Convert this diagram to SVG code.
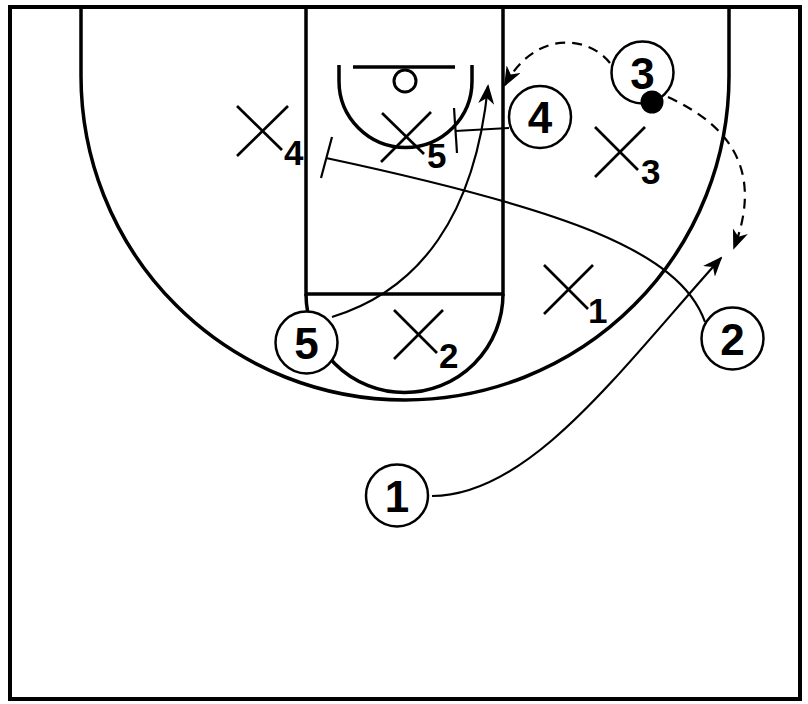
<svg xmlns="http://www.w3.org/2000/svg" width="808" height="704" viewBox="0 0 808 704">
  <defs>
    <style>
      .court { fill: none; stroke: #000; stroke-width: 3.5; }
      .xm { stroke: #000; stroke-width: 2.7; fill: none; }
      .xl { font-family: "Liberation Sans", Arial, sans-serif; font-weight: bold; font-size: 35px; fill: #000; }
      .pc { fill: #fff; stroke: #000; stroke-width: 2.5; }
      .pl { font-family: "Liberation Sans", Arial, sans-serif; font-weight: bold; font-size: 44px; fill: #000; text-anchor: middle; }
      .mv { fill: none; stroke: #000; stroke-width: 2.2; }
      .dash { stroke-dasharray: 10 7; }
    </style>
    <marker id="arr" viewBox="0 0 20 16" refX="18" refY="8" markerWidth="20" markerHeight="16" orient="auto" markerUnits="userSpaceOnUse">
      <path d="M0,0 L20,8 L0,16 L6,8 z" fill="#000"/>
    </marker>
  </defs>
  <rect width="808" height="704" fill="#fff"/>

  <g id="court">
    <rect x="10" y="7" width="790" height="692" fill="none" stroke="#000" stroke-width="4"/>
    <path class="court" d="M81,7 L81,76 A324,324 0 0 0 729,76 L729,7"/>
    <path class="court" d="M306,7 L306,294 L503,294 L503,7"/>
    <path class="court" d="M306,294 A98.5,98.5 0 0 0 503,294"/>
    <path class="court" d="M339,65 L339,81 A66.5,66.5 0 0 0 472,81 L472,65"/>
    <line class="court" x1="353" y1="67" x2="455" y2="67"/>
    <circle cx="405" cy="81" r="11" fill="none" stroke="#000" stroke-width="3"/>
  </g>

  <g id="connectors">
    <path id="cut1" class="mv" d="M432,496 C530,496 620,370 721,258" marker-end="url(#arr)"/>
    <path id="screen2" class="mv" d="M705,322 C680,250 560,208 326,158"/>
    <line class="mv" x1="332" y1="137" x2="321" y2="178" stroke-width="2.5"/>
    <path id="cut5" class="mv" d="M332,317 C420,290 475,215 488,86" marker-end="url(#arr)"/>
    <line id="screen4" class="mv" x1="509" y1="128" x2="455" y2="131"/>
    <line class="mv" x1="454" y1="108" x2="457" y2="153" stroke-width="2.5"/>
    <path id="dash3a" class="mv dash" d="M610,63 C588,35 535,30 505,85" marker-end="url(#arr)"/>
    <path id="dash3b" class="mv dash" d="M668,97 C740,130 760,180 734,248" marker-end="url(#arr)"/>
  </g>

  <g id="X4">
    <line class="xm" x1="237" y1="156" x2="288" y2="106"/>
    <line class="xm" x1="237" y1="106" x2="282" y2="150"/>
    <text class="xl" x="284" y="165">4</text>
  </g>
  <g id="X5">
    <line class="xm" x1="381" y1="162" x2="431" y2="112"/>
    <line class="xm" x1="382" y1="113" x2="424" y2="154"/>
    <text class="xl" x="427" y="168">5</text>
  </g>
  <g id="X3">
    <line class="xm" x1="595" y1="177" x2="645" y2="127"/>
    <line class="xm" x1="595" y1="127" x2="638" y2="170"/>
    <text class="xl" x="641" y="184">3</text>
  </g>
  <g id="X1">
    <line class="xm" x1="544" y1="314" x2="593" y2="265"/>
    <line class="xm" x1="544" y1="265" x2="588" y2="309"/>
    <text class="xl" x="588" y="323">1</text>
  </g>
  <g id="X2">
    <line class="xm" x1="394" y1="359" x2="443" y2="310"/>
    <line class="xm" x1="394" y1="310" x2="437" y2="353"/>
    <text class="xl" x="439" y="368">2</text>
  </g>

  <g id="O1">
    <circle class="pc" cx="397" cy="495.5" r="31"/>
    <text class="pl" x="397" y="511.5">1</text>
  </g>
  <g id="O2">
    <circle class="pc" cx="732.5" cy="338.5" r="31"/>
    <text class="pl" x="732.5" y="354.5">2</text>
  </g>
  <g id="O3">
    <circle class="pc" cx="642.5" cy="72.5" r="31"/>
    <text class="pl" x="642.5" y="88.5">3</text>
  </g>
  <g id="O4">
    <circle class="pc" cx="540" cy="117" r="31"/>
    <text class="pl" x="540" y="133">4</text>
  </g>
  <g id="O5">
    <circle class="pc" cx="306.5" cy="342.5" r="31"/>
    <text class="pl" x="306.5" y="358.5">5</text>
  </g>
  <g id="ball">
    <circle cx="652" cy="102" r="11.5" fill="#000"/>
  </g>
</svg>
